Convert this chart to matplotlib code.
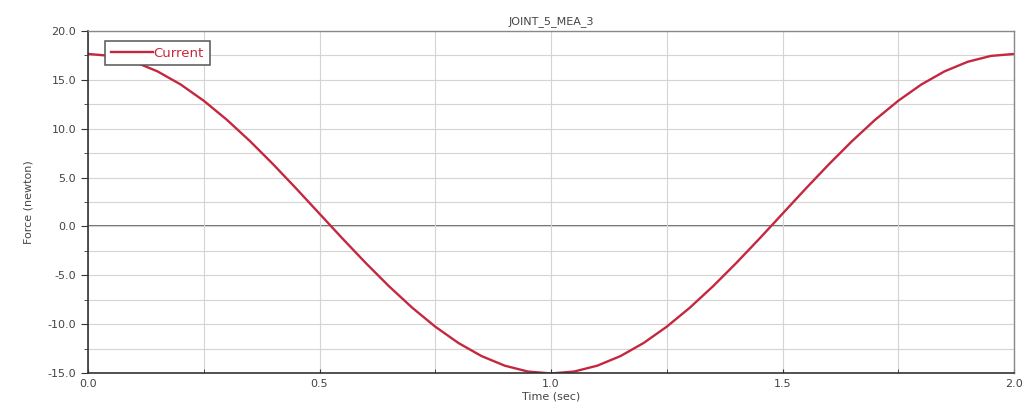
import matplotlib
matplotlib.use("Agg")
import matplotlib.pyplot as plt
from matplotlib.ticker import MultipleLocator, FormatStrFormatter

# Values (time in sec, force in newton)
time = [0.00, 0.05, 0.10, 0.15, 0.20, 0.25, 0.30, 0.35, 0.40, 0.45,
        0.50, 0.55, 0.60, 0.65, 0.70, 0.75, 0.80, 0.85, 0.90, 0.95,
        1.00, 1.05, 1.10, 1.15, 1.20, 1.25, 1.30, 1.35, 1.40, 1.45,
        1.50, 1.55, 1.60, 1.65, 1.70, 1.75, 1.80, 1.85, 1.90, 1.95, 2.00]
force = [17.65, 17.45, 16.85, 15.87, 14.53, 12.86, 10.91, 8.72, 6.35, 3.86,
         1.30, -1.26, -3.75, -6.12, -8.31, -10.26, -11.93, -13.27, -14.25, -14.85,
         -15.05, -14.85, -14.25, -13.27, -11.93, -10.26, -8.31, -6.12, -3.75, -1.26,
         1.30, 3.86, 6.35, 8.72, 10.91, 12.86, 14.53, 15.87, 16.85, 17.45, 17.65]

red = "#c4283f"
txt = "#444444"

fig = plt.figure(figsize=(10.26, 4.19), dpi=100)
ax = fig.add_axes([0.0858, 0.1098, 0.9025, 0.8162])

ax.plot(time, force, color=red, linewidth=1.7, label="Current")
ax.axhline(0, color="#555555", linewidth=1.2, zorder=1)

ax.set_xlim(0, 2.0)
ax.set_ylim(-15, 20)
ax.xaxis.set_major_locator(MultipleLocator(0.5))
ax.xaxis.set_minor_locator(MultipleLocator(0.25))
ax.yaxis.set_major_locator(MultipleLocator(5))
ax.yaxis.set_minor_locator(MultipleLocator(2.5))
ax.xaxis.set_major_formatter(FormatStrFormatter("%.1f"))
ax.yaxis.set_major_formatter(FormatStrFormatter("%.1f"))

ax.grid(True, which="both", color="#d4d4d4", linewidth=0.8, zorder=0)
ax.tick_params(axis="both", which="both", colors="#333333", labelcolor=txt,
               labelsize=8)
ax.tick_params(axis="y", which="major", length=5, direction="out")
ax.tick_params(axis="y", which="minor", length=3, direction="out")
ax.tick_params(axis="x", which="both", length=3, direction="in", pad=4)

for side in ("left", "bottom"):
    ax.spines[side].set_color("#333333")
    ax.spines[side].set_linewidth(1.2)
for side in ("top", "right"):
    ax.spines[side].set_color("#888888")
    ax.spines[side].set_linewidth(1.0)

ax.set_title("JOINT_5_MEA_3", fontsize=8, color=txt, pad=5)
ax.set_xlabel("Time (sec)", fontsize=8, color=txt, labelpad=2)
ax.set_ylabel("Force (newton)", fontsize=8, color=txt, labelpad=10)

leg = ax.legend(loc="upper left", bbox_to_anchor=(0.018, 0.972), fontsize=9.5,
                frameon=True, fancybox=False, shadow=False, handlelength=3.2,
                borderpad=0.45, borderaxespad=0, handletextpad=0.05,
                labelcolor=red, framealpha=1)
leg.get_frame().set_edgecolor("#555555")
leg.get_frame().set_linewidth(1.1)

fig.savefig("out.png", dpi=100)
